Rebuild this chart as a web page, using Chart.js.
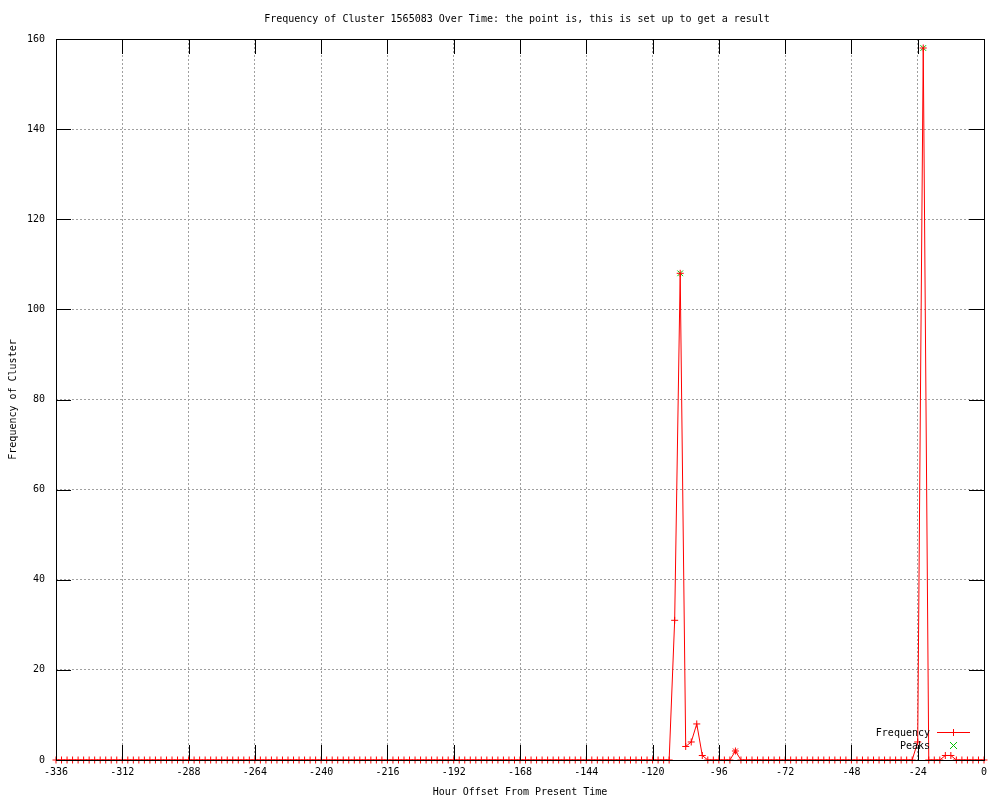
<!DOCTYPE html>
<html lang="en">
<head>
<meta charset="UTF-8">
<title>Frequency of Cluster 1565083 Over Time</title>
<script src="https://cdn.jsdelivr.net/npm/chart.js@4/dist/chart.umd.min.js"></script>
<style>
    body { margin: 0; background: #fff; }
    canvas { display: block; }
</style>
</head>
<body>
<canvas id="chart" width="1000" height="800"></canvas>
<script>
// hour offsets, one sample every 2 hours from -336 to 0
const hours = [];
for (let h = -336; h <= 0; h += 2) hours.push(h);

// cluster frequency per sample (one row = 24 hours)
const frequency = [
    0, 0, 0, 0, 0, 0, 0, 0, 0, 0, 0, 0,      // -336 .. -314
    0, 0, 0, 0, 0, 0, 0, 0, 0, 0, 0, 0,      // -312 .. -290
    0, 0, 0, 0, 0, 0, 0, 0, 0, 0, 0, 0,      // -288 .. -266
    0, 0, 0, 0, 0, 0, 0, 0, 0, 0, 0, 0,      // -264 .. -242
    0, 0, 0, 0, 0, 0, 0, 0, 0, 0, 0, 0,      // -240 .. -218
    0, 0, 0, 0, 0, 0, 0, 0, 0, 0, 0, 0,      // -216 .. -194
    0, 0, 0, 0, 0, 0, 0, 0, 0, 0, 0, 0,      // -192 .. -170
    0, 0, 0, 0, 0, 0, 0, 0, 0, 0, 0, 0,      // -168 .. -146
    0, 0, 0, 0, 0, 0, 0, 0, 0, 0, 0, 0,      // -144 .. -122
    0, 0, 0, 0, 31, 108, 3, 4, 8, 1, 0, 0,   // -120 .. -98
    0, 0, 0, 2, 0, 0, 0, 0, 0, 0, 0, 0,      // -96 .. -74
    0, 0, 0, 0, 0, 0, 0, 0, 0, 0, 0, 0,      // -72 .. -50
    0, 0, 0, 0, 0, 0, 0, 0, 0, 0, 0, 0,      // -48 .. -26
    4, 158, 0, 0, 0, 1, 1, 0, 0, 0, 0, 0,    // -24 .. -2
    0                                        // 0
];

const peakHours = [-110, -22];
const peakValues = [108, 158];

const xTicks = [-336, -312, -288, -264, -240, -216, -192, -168, -144, -120, -96, -72, -48, -24, 0];
const yTicks = [0, 20, 40, 60, 80, 100, 120, 140, 160];

const FONT = 'DejaVu Sans Mono';
const FREQ_COLOR = '#ff0000';
const PEAK_COLOR = '#00c000';

// gnuplot look: border and inward ticks drawn over the data, key in the corner
const gnuplotFrame = {
    id: 'gnuplotFrame',
    afterDatasetsDraw(chart) {
        const { ctx, chartArea: a, scales: { x, y } } = chart;
        ctx.save();
        ctx.strokeStyle = '#000';
        ctx.lineWidth = 1;
        ctx.beginPath();
        xTicks.forEach(v => {
            const px = Math.round(x.getPixelForValue(v)) + 0.5;
            ctx.moveTo(px, a.bottom); ctx.lineTo(px, a.bottom - 15);
            ctx.moveTo(px, a.top); ctx.lineTo(px, a.top + 15);
        });
        yTicks.forEach(v => {
            const py = Math.round(y.getPixelForValue(v)) + 0.5;
            ctx.moveTo(a.left, py); ctx.lineTo(a.left + 15, py);
            ctx.moveTo(a.right, py); ctx.lineTo(a.right - 15, py);
        });
        ctx.stroke();
        ctx.strokeRect(Math.round(a.left) + 0.5, Math.round(a.top) + 0.5,
            Math.round(a.right - a.left), Math.round(a.bottom - a.top));

        // key
        const tx = 930, sx1 = 937, sx2 = 970, mx = 953;
        ctx.font = '10px "' + FONT + '"';
        ctx.textAlign = 'right';
        ctx.textBaseline = 'middle';
        ctx.fillStyle = '#000';
        const ds = chart.data.datasets;
        ctx.fillText(ds[0].label, tx, 733);
        ctx.fillText(ds[1].label, tx, 746);

        ctx.strokeStyle = FREQ_COLOR;
        ctx.beginPath();
        ctx.moveTo(sx1, 732.5); ctx.lineTo(sx2, 732.5);
        ctx.moveTo(mx + 0.5, 729); ctx.lineTo(mx + 0.5, 736);
        ctx.stroke();

        ctx.strokeStyle = PEAK_COLOR;
        ctx.beginPath();
        ctx.moveTo(mx - 3, 742); ctx.lineTo(mx + 4, 749);
        ctx.moveTo(mx + 4, 742); ctx.lineTo(mx - 3, 749);
        ctx.stroke();
        ctx.restore();
    }
};

new Chart(document.getElementById('chart'), {
    type: 'line',
    data: {
        datasets: [{
            label: 'Frequency',
            data: hours.map((h, i) => ({ x: h, y: frequency[i] })),
            borderColor: FREQ_COLOR,
            borderWidth: 1,
            pointStyle: c => (c.raw && c.raw.x === -90) ? 'star' : 'cross',
            pointRadius: 3.5,
            pointBorderColor: FREQ_COLOR,
            pointBorderWidth: 1,
            tension: 0,
            clip: false
        }, {
            label: 'Peaks',
            data: peakHours.map((h, i) => ({ x: h, y: peakValues[i] })),
            showLine: false,
            pointStyle: 'crossRot',
            pointRadius: 4,
            pointBorderColor: PEAK_COLOR,
            borderColor: PEAK_COLOR,
            pointBorderWidth: 1,
            clip: false
        }]
    },
    options: {
        responsive: false,
        animation: false,
        layout: { padding: { top: 39, right: 16, left: 0, bottom: 0 } },
        plugins: {
            legend: { display: false },
            tooltip: { enabled: false },
            title: { display: false }
        },
        scales: {
            x: {
                type: 'linear',
                min: -336,
                max: 0,
                afterBuildTicks: s => { s.ticks = xTicks.map(v => ({ value: v })); },
                afterFit: s => { s.height = 40; },
                ticks: {
                    autoSkip: false,
                    maxRotation: 0,
                    padding: 6,
                    color: '#000',
                    font: { family: FONT, size: 10 }
                },
                grid: { color: '#a0a0a0', drawTicks: false },
                border: { display: false, dash: [2, 2] },
                title: {
                    display: true,
                    text: 'Hour Offset From Present Time',
                    color: '#000',
                    font: { family: FONT, size: 10 },
                    padding: { top: 0, bottom: 2 }
                }
            },
            y: {
                min: 0,
                max: 160,
                afterBuildTicks: s => { s.ticks = yTicks.map(v => ({ value: v })); },
                afterFit: s => { s.width = 56; },
                ticks: {
                    padding: 11,
                    color: '#000',
                    font: { family: FONT, size: 10 }
                },
                grid: { color: '#a0a0a0', drawTicks: false },
                border: { display: false, dash: [2, 2] },
                title: {
                    display: true,
                    text: 'Frequency of Cluster',
                    color: '#000',
                    font: { family: FONT, size: 10 },
                    padding: { top: 7, bottom: 0 }
                }
            }
        }
    },
    plugins: [gnuplotFrame, {
        id: 'topTitle',
        afterDraw(chart) {
            const { ctx, chartArea: a } = chart;
            ctx.save();
            ctx.font = '10px "' + FONT + '"';
            ctx.fillStyle = '#000';
            ctx.textAlign = 'center';
            ctx.textBaseline = 'middle';
            ctx.fillText('Frequency of Cluster 1565083 Over Time: the point is, this is set up to get a result',
                (a.left + a.right) / 2 - 3, 19);
            ctx.restore();
        }
    }]
});
</script>
</body>
</html>
